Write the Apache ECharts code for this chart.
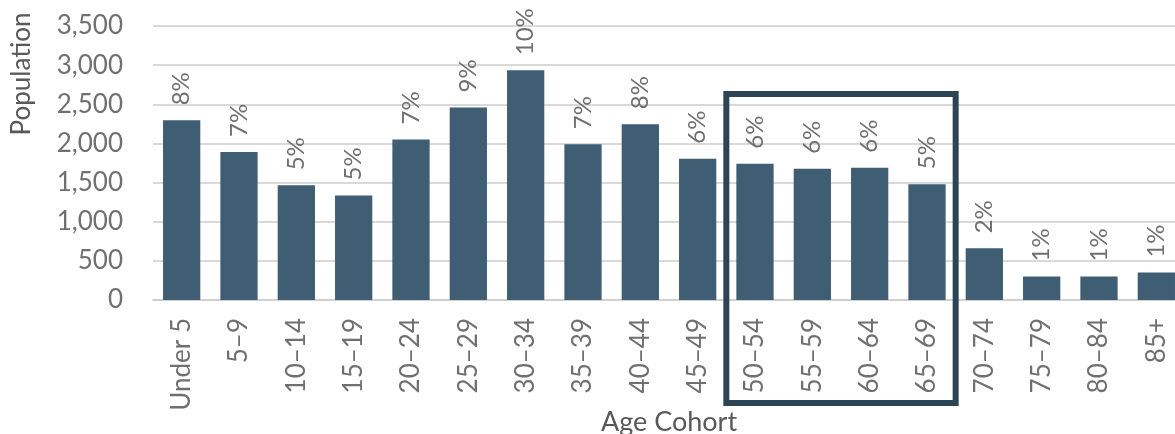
<!DOCTYPE html>
<html>
<head>
<meta charset="utf-8">
<script src="https://cdn.jsdelivr.net/npm/echarts@6/dist/echarts.min.js"></script>
<style>
html,body{margin:0;padding:0;background:#fff;}
#c{width:1175px;height:434px;}
</style>
</head>
<body>
<div id="c"></div>
<script>
var categories = ['Under 5','5\u20139','10\u201314','15\u201319','20\u201324','25\u201329','30\u201334','35\u201339','40\u201344','45\u201349','50\u201354','55\u201359','60\u201364','65\u201369','70\u201374','75\u201379','80\u201384','85+'];
var population = [2295,1890,1465,1335,2050,2460,2935,1990,2245,1805,1740,1675,1690,1480,660,300,300,350];
var shares = [8,7,5,5,7,9,10,7,8,6,6,6,6,5,2,1,1,1];
var yTicks = [0,500,1000,1500,2000,2500,3000,3500];
var highlight = ['50\u201354','65\u201369'];
var highlightTop = 2630;

var FONT = 'Lato';
var chart = echarts.init(document.getElementById('c'), null, {renderer:'canvas'});
var option = {
  animation:false,
  grid:{left:153,right:-10,top:26,bottom:134,containLabel:false,outerBoundsMode:'none'},
  xAxis:{
    type:'category',
    data:categories,
    axisTick:{show:false},
    axisLine:{lineStyle:{color:'#d0d0d0',width:2}},
    axisLabel:{rotate:90,margin:18,fontFamily:FONT,fontSize:26,color:'#707070',interval:0},
    name:'Age Cohort',
    nameLocation:'middle',
    nameGap:109,
    nameMoveOverlap:false,
    nameTextStyle:{fontFamily:FONT,fontSize:27,color:'#595959'}
  },
  yAxis:{
    type:'value',
    min:yTicks[0],
    max:yTicks[yTicks.length-1],
    interval:500,
    axisLine:{show:false},
    axisTick:{show:false},
    splitLine:{lineStyle:{color:'#d9d9d9',width:2}},
    axisLabel:{margin:30,fontFamily:FONT,fontSize:26,color:'#707070',
      formatter:function(v){return v.toLocaleString('en-US');}}
  },
  series:[{
    type:'bar',
    data:population,
    barWidth:'65%',
    itemStyle:{color:'#3f5e74'},
    label:{
      show:true,
      position:'top',
      rotate:90,
      align:'left',
      verticalAlign:'middle',
      distance:15,
      fontFamily:FONT,
      fontSize:24,
      color:'#707070',
      formatter:function(p){return shares[p.dataIndex]+'%';}
    }
  }]
};
chart.setOption(option);

var p1 = chart.convertToPixel({xAxisIndex:0}, highlight[0]);
var p2 = chart.convertToPixel({xAxisIndex:0}, highlight[1]);
var half = (chart.convertToPixel({xAxisIndex:0}, categories[1]) - chart.convertToPixel({xAxisIndex:0}, categories[0]))/2;
var yTop = chart.convertToPixel({yAxisIndex:0}, highlightTop);
var y0 = chart.convertToPixel({yAxisIndex:0}, 0);
var yBottom = y0 + 103;

chart.setOption({
  graphic:[
    {type:'rect',shape:{x:p1-half,y:yTop,width:(p2+half)-(p1-half),height:yBottom-yTop},
     style:{fill:'none',stroke:'#2d4356',lineWidth:6},z:100},
    {type:'text',x:22,y:74,rotation:Math.PI/2,
     style:{text:'Population',fontFamily:FONT,fontSize:26,fill:'#595959',align:'center',verticalAlign:'middle'}}
  ]
});
</script>
</body>
</html>
